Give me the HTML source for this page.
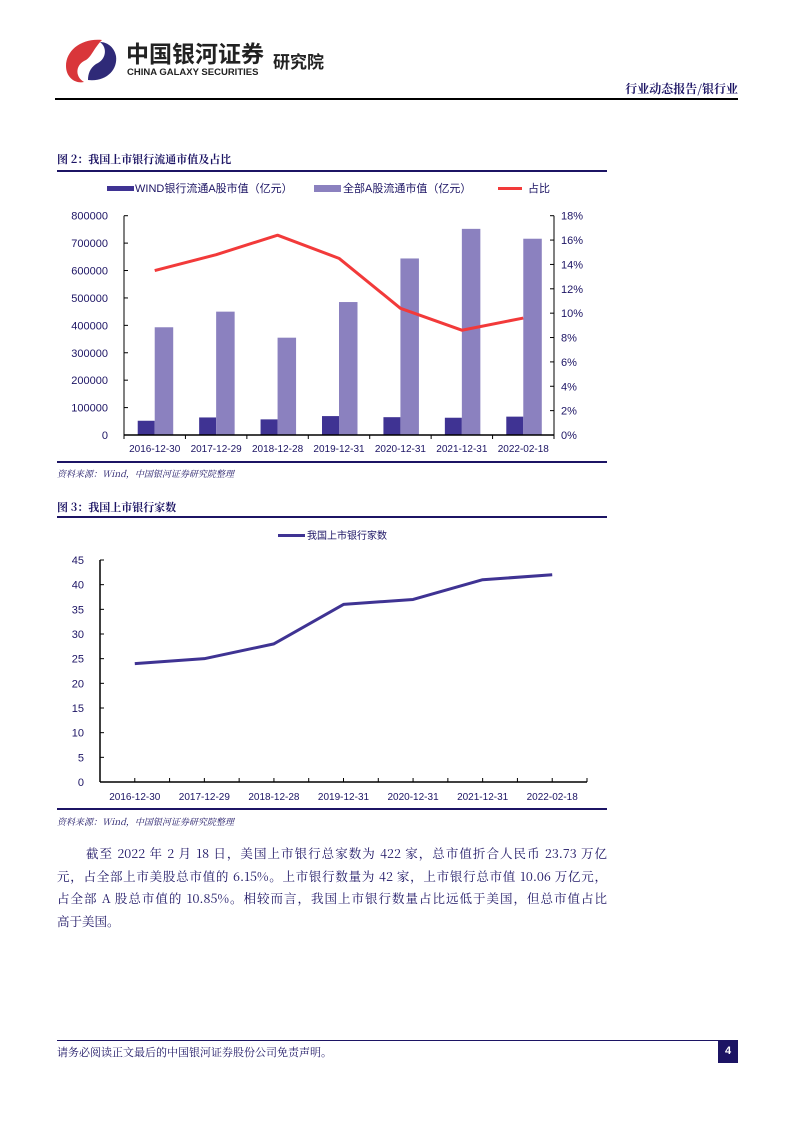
<!DOCTYPE html>
<html><head><meta charset="utf-8">
<style>
body{margin:0;background:#fff;}
#page{position:relative;width:793px;height:1122px;overflow:hidden;font-family:"Liberation Sans","Noto Sans CJK SC",sans-serif;}
.abs{position:absolute;}
.title{font-family:"Noto Serif CJK SC","Noto Sans CJK SC",serif;font-weight:bold;font-size:11px;color:#1c1464;}
.rule{position:absolute;background:#1c1464;height:2px;}
.src{font-family:"Noto Serif CJK SC","Noto Sans CJK SC",serif;font-style:italic;font-size:9px;color:#1c1464;}
.para div{position:absolute;left:57px;width:550px;font-family:"Noto Serif CJK SC","Noto Sans CJK SC",serif;font-size:12.5px;color:#1c1464;text-align:justify;text-align-last:justify;white-space:nowrap;}
svg text{font-family:"Liberation Sans","Noto Sans CJK SC",sans-serif;}
</style></head><body>
<div id="page">
<svg class="abs" style="left:62px;top:36px" width="60" height="50">
<path d="M40 4 C20 2 4 14 4 30 C4 42 14 48 22 46 C12 40 14 28 24 24 C30 20 32 12 40 4Z" fill="#d9363a"/>
<path d="M26 44 C44 46 56 34 54 20 C52 10 44 6 38 6 C46 12 44 24 34 28 C28 32 26 38 26 44Z" fill="#2f2a78"/>
</svg>
<div class="abs" style="left:126px;top:38px;font-size:23px;font-weight:bold;color:#222;font-family:'Noto Sans CJK SC',sans-serif;line-height:28px">中国银河证券</div>
<div class="abs" style="left:127px;top:67px;font-size:9.5px;font-weight:bold;color:#222;">CHINA GALAXY SECURITIES</div>
<div class="abs" style="left:273px;top:48px;font-size:17px;font-weight:bold;color:#222;font-family:'Noto Sans CJK SC',sans-serif;">研究院</div>
<div class="abs title" style="right:55px;top:80px;font-size:12px;">行业动态报告/银行业</div>
<div class="abs" style="left:55px;top:98px;width:683px;height:2px;background:#000"></div>

<div class="abs title" style="left:57px;top:151px">图 2：我国上市银行流通市值及占比</div>
<div class="rule" style="left:57px;top:170px;width:550px"></div>
<svg id="c1" class="abs" style="left:0;top:172px" width="620" height="290"></svg>
<div class="rule" style="left:57px;top:461px;width:550px"></div>
<div class="abs src" style="left:57px;top:467px">资料来源：Wind，中国银河证券研究院整理</div>

<div class="abs title" style="left:57px;top:499px">图 3：我国上市银行家数</div>
<div class="rule" style="left:57px;top:516px;width:550px"></div>
<svg id="c2" class="abs" style="left:0;top:518px" width="620" height="290"></svg>
<div class="rule" style="left:57px;top:808px;width:550px"></div>
<div class="abs src" style="left:57px;top:815px">资料来源：Wind，中国银河证券研究院整理</div>

<div class="para">
<div style="top:844px;left:86px;width:521px">截至 2022 年 2 月 18 日，美国上市银行总家数为 422 家，总市值折合人民币 23.73 万亿</div>
<div style="top:867px">元，占全部上市美股总市值的 6.15%。上市银行数量为 42 家，上市银行总市值 10.06 万亿元，</div>
<div style="top:889px">占全部 A 股总市值的 10.85%。相较而言，我国上市银行数量占比远低于美国，但总市值占比</div>
<div style="top:912px;text-align-last:left">高于美国。</div>
</div>

<div class="abs" style="left:57px;top:1040px;width:681px;height:1px;background:#1c1464"></div>
<div class="abs" style="left:57px;top:1044px;font-size:11px;color:#1c1464;font-family:'Noto Serif CJK SC',serif">请务必阅读正文最后的中国银河证券股份公司免责声明。</div>
<div class="abs" style="left:718px;top:1041px;width:20px;height:22px;background:#1c1464;color:#fff;font-size:11px;font-weight:bold;text-align:center;line-height:20px">4</div>
</div>
<script>
const cats=["2016-12-30","2017-12-29","2018-12-28","2019-12-31","2020-12-31","2021-12-31","2022-02-18"];
const bankCap=[52000,64000,57000,69000,65000,63000,67000];
const allCap=[393000,450000,355000,485000,644000,752000,716000];
const ratio=[13.5,14.8,16.4,14.5,10.4,8.6,9.6];
const leftTicks=[0,100000,200000,300000,400000,500000,600000,700000,800000];
const rightTicks=[0,2,4,6,8,10,12,14,16,18];
const bankCount=[24,25,28,36,37,41,42];
const countTicks=[0,5,10,15,20,25,30,35,40,45];
const NS="http://www.w3.org/2000/svg";
function mk(p,t,a,txt){const e=document.createElementNS(NS,t);for(const k in a)e.setAttribute(k,a[k]);if(txt!==undefined)e.textContent=txt;p.appendChild(e);return e;}
(function(){
const s=document.getElementById('c1');
const L=124,R=554,T=215.7-172,B=435-172,bw=(R-L)/cats.length;
const y=v=>B-(v/800000)*(B-T), yr=v=>B-(v/18)*(B-T), xc=i=>L+bw*(i+0.5);
let e=mk(s,'rect',{x:107,y:14,width:27,height:5,fill:'#3f3393'});


e=mk(s,'text',{x:135,y:20,'font-size':11,fill:'#1c1464'},'WIND银行流通A股市值（亿元）');


e=mk(s,'rect',{x:314,y:13,width:27,height:7,fill:'#8b81bf'});


e=mk(s,'text',{x:343,y:20,'font-size':11,fill:'#1c1464'},'全部A股流通市值（亿元）');


e=mk(s,'line',{x1:498,y1:16.5,x2:522,y2:16.5,stroke:'#f23a3a','stroke-width':3});


e=mk(s,'text',{x:528,y:20,'font-size':11,fill:'#1c1464'},'占比');


cats.forEach((c,i)=>{
 let b=mk(s,'rect',{x:xc(i)-17,y:y(bankCap[i]),width:17,height:B-y(bankCap[i]),fill:'#3f3393'});
 
 
 b=mk(s,'rect',{x:xc(i),y:y(allCap[i]),width:18.5,height:B-y(allCap[i]),fill:'#8b81bf'});
 
 
 const t=mk(s,'text',{x:xc(i),y:B+17,'font-size':10,fill:'#1c1464','text-anchor':'middle'},c);
 
 
 mk(s,'line',{x1:L+bw*i,y1:B,x2:L+bw*i,y2:B+4,stroke:'#000'});
});
mk(s,'line',{x1:R,y1:B,x2:R,y2:B+4,stroke:'#000'});
mk(s,'line',{x1:L,y1:T,x2:L,y2:B,stroke:'#000','stroke-width':1});
mk(s,'line',{x1:R,y1:T,x2:R,y2:B,stroke:'#000','stroke-width':1});
mk(s,'line',{x1:L,y1:B,x2:R,y2:B,stroke:'#000','stroke-width':1.5});
leftTicks.forEach(v=>{mk(s,'line',{x1:L,y1:y(v),x2:L+4,y2:y(v),stroke:'#000'});
 const t=mk(s,'text',{x:L-16,y:y(v)+4,'font-size':11,fill:'#1c1464','text-anchor':'end'},String(v));
 
 });
rightTicks.forEach(v=>{mk(s,'line',{x1:R,y1:yr(v),x2:R-4,y2:yr(v),stroke:'#000'});
 const t=mk(s,'text',{x:R+7,y:yr(v)+4,'font-size':11,fill:'#1c1464'},v+'%');
 
 });
const ln=mk(s,'polyline',{points:ratio.map((v,i)=>xc(i)+','+yr(v)).join(' '),fill:'none',stroke:'#f23a3a','stroke-width':3,'stroke-linejoin':'round'});


})();
(function(){
const s=document.getElementById('c2');
const L=100,R=587,T=560-518,B=782-518,bw=(R-L)/cats.length;
const y=v=>B-(v/45)*(B-T), xc=i=>L+bw*(i+0.5);
let e=mk(s,'line',{x1:278,y1:17.5,x2:305,y2:17.5,stroke:'#3f3393','stroke-width':3});


e=mk(s,'text',{x:307,y:21,'font-size':10,fill:'#1c1464'},'我国上市银行家数');


mk(s,'line',{x1:L,y1:T,x2:L,y2:B,stroke:'#000','stroke-width':1.5});
mk(s,'line',{x1:L,y1:B,x2:R,y2:B,stroke:'#000','stroke-width':1.5});
countTicks.forEach(v=>{mk(s,'line',{x1:L,y1:y(v),x2:L+4,y2:y(v),stroke:'#000'});
 const t=mk(s,'text',{x:L-16,y:y(v)+4,'font-size':11,fill:'#1c1464','text-anchor':'end'},String(v));
 
 });
for(let i=0;i<=cats.length;i++)mk(s,'line',{x1:L+bw*i,y1:B,x2:L+bw*i,y2:B-4,stroke:'#000'});
cats.forEach((c,i)=>{mk(s,'line',{x1:xc(i),y1:B,x2:xc(i),y2:B-4,stroke:'#000'});
 const t=mk(s,'text',{x:xc(i),y:B+18,'font-size':10,fill:'#1c1464','text-anchor':'middle'},c);
 
 });
const ln=mk(s,'polyline',{points:bankCount.map((v,i)=>xc(i)+','+y(v)).join(' '),fill:'none',stroke:'#3f3393','stroke-width':3,'stroke-linejoin':'round'});


})();
</script>
</body></html>
